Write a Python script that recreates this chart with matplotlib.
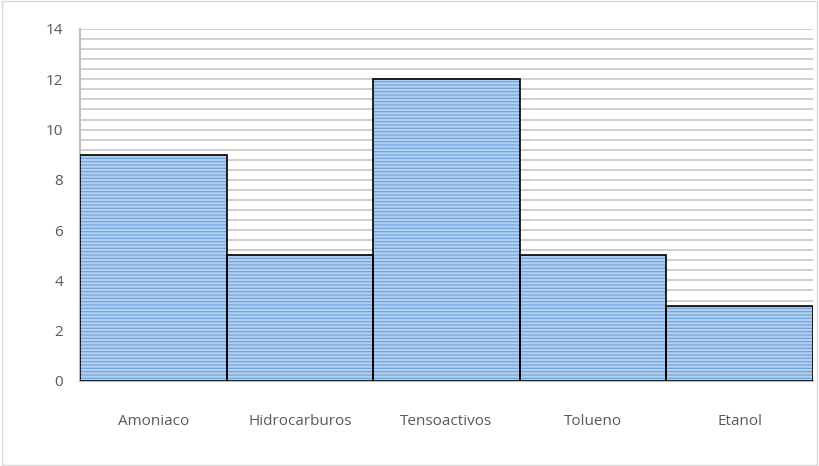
import matplotlib
matplotlib.use("Agg")
import matplotlib.pyplot as plt
from matplotlib.patches import Rectangle
import numpy as np

categories = ["Amoniaco", "Hidrocarburos", "Tensoactivos", "Tolueno", "Etanol"]
values = [9, 5, 12, 5, 3]

plt.rcParams['font.family'] = ['Open Sans', 'DejaVu Sans']
plt.rcParams['hatch.linewidth'] = 0.8

fig = plt.figure(figsize=(8.19, 4.66), dpi=100)
ax = fig.add_axes([80/819, 1-381/466, 733/819, 352/466])

x = np.arange(len(categories))
# hatched fill (hatch takes the edge colour), then black outline on top
ax.bar(x, values, width=1.0, color='#b4d0f0', edgecolor='#6a9fdc', linewidth=0,
       hatch='-----', zorder=3)
ax.bar(x, values, width=1.0, fill=False, edgecolor='black', linewidth=1.2, zorder=4)

ax.set_xlim(-0.5, len(categories) - 0.5)
ax.set_ylim(0, 14)
ax.set_yticks(np.arange(0, 15, 2))
ax.set_yticks(np.arange(0, 14.01, 0.4), minor=True)
ax.grid(axis='y', which='both', color='#cccccc', linewidth=1.3, zorder=0)
ax.set_xticks(x)
ax.set_xticklabels(categories)
ax.tick_params(axis='both', which='both', length=0, labelsize=11, colors='#595959')
ax.tick_params(axis='x', pad=24)
ax.tick_params(axis='y', pad=12)

for s in ['top', 'right']:
    ax.spines[s].set_visible(False)
for s in ['left', 'bottom']:
    ax.spines[s].set_color('#bfbfbf')
    ax.spines[s].set_linewidth(1.5)

fig.patches.append(Rectangle((0.002, 0.002), 0.996, 0.996, transform=fig.transFigure,
                             fill=False, edgecolor='#d9d9d9', linewidth=1))

fig.savefig("out.png", dpi=100)
